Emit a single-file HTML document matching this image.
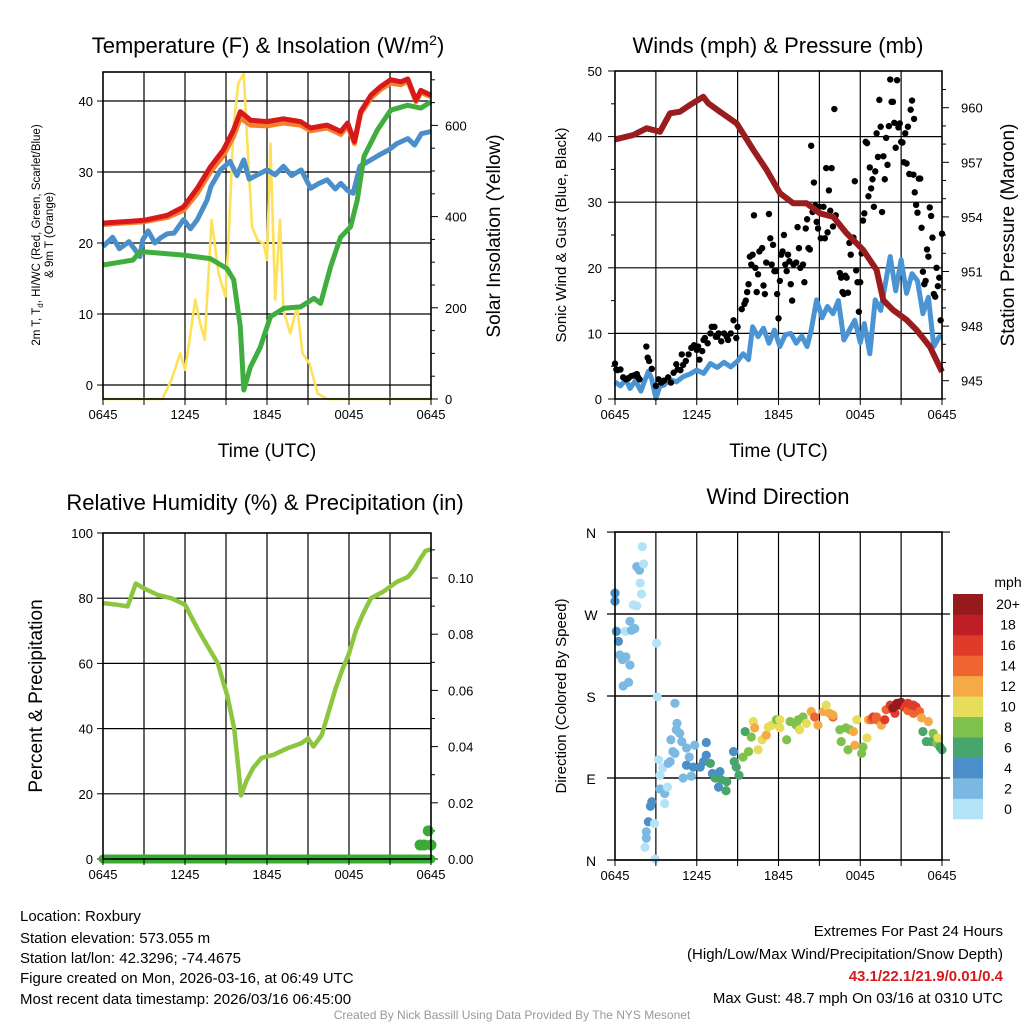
<!DOCTYPE html>
<html><head><meta charset="utf-8">
<style>
html,body{margin:0;padding:0;background:#fff;}
svg{display:block;font-family:"Liberation Sans",Arial,sans-serif;}
</style></head>
<body>
<svg id="fig" width="1024" height="1024" viewBox="0 0 1024 1024">
<rect x="0" y="0" width="1024" height="1024" fill="#fff"/>
<text x="268" y="53" font-size="22" text-anchor="middle">Temperature (F) &amp; Insolation (W/m<tspan dy="-8" font-size="14">2</tspan><tspan dy="8">)</tspan></text>
<text x="778" y="53" font-size="22" text-anchor="middle">Winds (mph) &amp; Pressure (mb)</text>
<text x="265" y="510" font-size="22" text-anchor="middle">Relative Humidity (%) &amp; Precipitation (in)</text>
<text x="778" y="504" font-size="22" text-anchor="middle">Wind Direction</text>
<g id="p1"></g>
<g id="p2"></g>
<g id="p3"></g>
<g id="p4"></g>
<g font-size="15">
<text x="20" y="921">Location: Roxbury</text>
<text x="20" y="943">Station elevation: 573.055 m</text>
<text x="20" y="963">Station lat/lon: 42.3296; -74.4675</text>
<text x="20" y="983">Figure created on Mon, 2026-03-16, at 06:49 UTC</text>
<text x="20" y="1004">Most recent data timestamp: 2026/03/16 06:45:00</text>
</g>
<g font-size="15" text-anchor="end">
<text x="1003" y="936">Extremes For Past 24 Hours</text>
<text x="1003" y="959">(High/Low/Max Wind/Precipitation/Snow Depth)</text>
<text x="1003" y="981" fill="#d7191c" font-weight="bold">43.1/22.1/21.9/0.01/0.4</text>
<text x="1003" y="1003">Max Gust: 48.7 mph On 03/16 at 0310 UTC</text>
</g>
<text x="512" y="1019" font-size="12" fill="#999" text-anchor="middle">Created By Nick Bassill Using Data Provided By The NYS Mesonet</text>
</svg>
<script>
// ---------- Panel 1 data ----------
const tempH = [0,3,4.7,5.9,6.9,7.85,8.8,9.55,10.05,10.8,12,13.2,14.45,15.2,16.4,17.4,17.9,18.4,18.85,19.6,20.3,21.05,21.8,22.3,22.9,23.25,24];
const tempRed = [22.8,23.2,23.9,25.1,27.7,30.7,33.1,35.9,38.5,37.3,37.1,37.5,37.1,36.2,36.6,35.7,36.9,34.3,38.5,40.8,42.0,43.0,42.7,43.1,40.1,41.5,40.8];
const tempOrange = [22.6,23.0,23.6,24.6,27.0,30.0,32.3,35.0,37.6,36.6,36.5,36.9,36.6,35.8,36.2,35.3,36.5,34.0,38.2,40.4,41.6,42.5,42.3,42.8,39.9,41.2,40.6];
const dewH = [0,2.2,2.7,5.9,7.85,9.07,9.56,10.05,10.3,10.78,11.5,12.25,13.23,14.45,15.43,15.92,16.65,17.38,18.12,18.6,19.1,20.07,21.05,22.27,23.25,24];
const dewPt = [16.9,17.6,18.8,18.3,17.8,16.4,14.8,8.2,-0.7,2.5,5.3,9.6,10.8,11.0,12.2,11.5,16.6,20.8,22.3,26.0,32.2,35.9,38.7,39.4,39.0,39.9];
const chillH = [0,0.7,1.2,1.9,2.6,2.7,2.9,3.3,3.8,4.2,4.7,5.2,5.9,6.4,6.9,7.6,7.9,8.6,9.3,9.8,10.3,10.7,11.5,12.0,12.6,13.2,13.8,14.5,15.2,15.8,16.4,17.0,17.4,17.9,18.3,18.8,19.6,20.3,20.9,21.5,22.3,22.8,23.3,24];
const windChill = [19.5,20.8,19.2,20.2,18.4,18.1,20.4,21.7,20.0,20.7,21.3,21.4,23.3,22.0,23.3,26.0,28.0,30.3,31.5,29.5,31.7,29.0,29.8,30.3,29.6,30.8,29.5,30.3,27.7,28.4,28.9,27.6,28.4,27.4,27.0,30.8,31.7,32.5,33.1,34.0,34.7,33.8,35.4,35.7];
const solarH = [0,4.4,4.4,5.0,5.65,6.0,6.4,6.75,7.1,7.45,7.95,8.45,8.95,9.2,9.55,9.9,10.3,10.5,10.9,11.3,11.75,12.0,12.25,12.6,12.95,13.2,13.7,14.2,14.6,15.1,15.7,16.4,24];
const solar = [0,0,4,41,100,64,144,218,167,130,393,276,225,356,597,692,714,597,378,349,341,305,560,218,393,195,144,203,100,78,12,0,0];
// ---------- Panel 2 data ----------
const presH = [0,1.34,2.32,3.3,4.04,4.77,5.5,6.48,6.85,7.7,8.93,10.15,11.13,12.11,13.08,14.06,15.04,16.02,17.0,18.22,19.2,19.69,20.42,21.4,22.13,23.11,24];
const pressure = [958.26,958.5,958.87,958.68,959.69,959.78,960.15,960.6,960.24,959.78,959.14,957.68,956.58,955.3,954.75,954.75,954.2,954.0,953.1,952.18,951.08,949.43,948.88,948.34,947.79,946.87,945.49];
const sonicH = [0,0.4,0.8,1.1,1.5,1.9,2.2,2.45,2.7,3.0,3.3,3.6,4.0,4.5,5.0,5.5,6.0,6.5,7.0,7.5,8.0,8.5,9.0,9.4,9.8,10.1,10.5,10.9,11.3,11.7,12.1,12.5,12.9,13.3,13.7,14.1,14.4,14.8,15.2,15.6,16.0,16.4,16.8,17.2,17.6,18.0,18.3,18.7,19.1,19.5,19.8,20.2,20.6,21.0,21.4,21.8,22.2,22.6,23.0,23.4,23.8,24];
const sonic = [2.6,2.0,3.0,1.6,2.8,1.2,2.9,4.2,3.0,0.1,2.0,2.1,3.0,2.6,3.4,3.8,4.4,3.9,5.4,4.8,5.6,4.9,5.8,6.9,6.0,11.0,9.5,10.8,8.5,10.5,8.0,9.8,10.0,8.5,9.6,8.0,10.5,15.1,12.4,14.1,13.0,15.0,9.0,10.5,12.0,8.6,11.5,6.9,15.1,13.5,17.1,21.7,16.5,21.2,16.1,19.1,18.0,13.0,15.5,8.0,9.5,9.5];
const gustH = [0,0.1,0.2,0.4,0.6,0.8,1.0,1.2,1.4,1.6,1.7,1.8,2.3,2.4,2.5,2.7,3.0,3.2,3.4,3.6,3.9,4.1,4.3,4.5,4.6,4.8,4.9,5.0,5.2,5.4,5.6,5.8,6.0,6.1,6.2,6.4,6.5,6.6,6.8,7.0,7.1,7.3,7.4,7.5,7.6,7.8,8.0,8.2,8.3,8.5,8.7,8.9,9.0,9.3,9.5,9.6,9.7,9.8,9.9,10.0,10.1,10.2,10.3,10.4,10.5,10.6,10.8,10.9,11.0,11.1,11.3,11.4,11.5,11.6,11.7,11.8,11.9,12.0,12.1,12.2,12.3,12.4,12.5,12.6,12.7,12.8,12.9,13.0,13.1,13.3,13.4,13.5,13.6,13.8,13.9,14.0,14.1,14.2,14.3,14.4,14.5,14.6,14.7,14.8,14.9,15.0,15.1,15.3,15.5,15.6,15.7,15.9,16.1,16.2,16.0,15.4,15.8,16.5,16.6,16.7,16.8,16.9,17.0,17.1,17.2,17.3,17.6,17.7,17.8,17.9,18.0,17.5,18.1,18.2,18.3,18.4,18.5,18.6,18.7,18.8,18.9,19.0,19.1,19.2,19.3,19.4,19.5,19.6,19.7,19.8,19.9,20.0,20.1,20.2,20.3,20.4,20.5,20.6,20.7,20.8,20.9,21.0,21.1,21.2,21.3,21.4,21.5,21.6,21.7,21.8,21.9,21.95,22.0,22.1,22.2,22.3,22.4,22.5,22.6,22.7,22.8,22.9,23.0,23.1,23.2,23.3,23.4,23.5,23.6,23.7,23.8,23.9,24.0];
const gust = [5.4,4.5,4.4,4.5,3.3,3.0,3.2,3.5,3.6,3.8,3.3,3.0,8.0,6.3,5.8,4.6,2.0,3.0,2.5,2.8,3.3,2.5,4.0,5.3,4.5,4.4,6.8,5.2,5.8,6.8,7.8,8.2,7.5,8.0,6.0,7.3,9.0,9.3,8.5,10.0,11.0,11.0,9.5,9.5,10.0,8.8,10.0,9.5,9.0,10.0,12.0,9.3,11.0,13.7,14.5,15.0,16.3,17.5,21.7,20.5,22.0,28.0,20.0,16.3,19.0,22.5,23.0,17.3,16.0,20.8,28.2,24.5,20.5,23.5,19.5,19.5,16.0,12.3,18.0,22.0,22.5,25.0,20.5,19.5,22.0,21.0,17.5,15.0,20.5,20.8,26.2,23.0,20.0,20.5,17.8,26.0,27.4,23.0,22.8,38.6,28.5,33.0,29.5,27.0,26.0,29.3,24.5,29.3,35.2,25.4,31.8,35.2,44.2,28.0,26.3,24.5,28.7,19.2,18.5,16.3,16.0,18.8,18.5,16.2,23.8,22.0,33.2,19.6,17.8,13.3,17.8,24.6,22.2,27.2,28.3,39.2,39.0,30.9,35.3,32.1,33.5,29.3,34.7,40.5,36.9,45.6,41.5,28.5,37.0,33.5,39.8,35.7,41.6,48.7,45.3,45.3,42.1,38.3,48.6,41.4,42.0,39.2,39.1,36.1,40.5,35.9,41.5,34.3,44.1,45.5,34.2,42.7,31.5,29.6,28.4,33.6,33.6,26.1,19.4,17.5,18.0,22.8,21.7,29.2,27.9,24.6,16.0,15.6,20.0,17.2,18.5,12.0,25.2,15.2,18.1];
// ---------- Panel 3 data ----------
const rhH = [0,1,1.8,2.4,3,4,5,6,6.5,7,7.7,8.4,9.1,9.6,9.9,10.1,10.5,11,11.6,12.5,13.5,14.5,15,15.4,16,16.5,17,17.5,18,18.5,19,19.6,20.5,21.5,22.3,22.8,23.2,23.6,24];
const rh = [78.5,78,77.5,84.5,83,81,80,78,74,70,65,60,50,40,28,19.5,24,28,31,32,34,35.5,37,34.5,38,45,52,58,63,70,75,80,82,85,86.5,89,92,94.5,95];
const precipH = [23.2,23.5,23.8,24];
const precip = [0.005,0.005,0.01,0.005];
// ---------- Panel 4 data ----------
const dirH = [0,0,0.1,0.25,0.35,0.55,0.8,1.1,0.6,1.0,0.75,1.2,1.45,1.1,1.35,1.6,1.6,1.8,1.85,1.95,2.0,2.1,3.05,3.1,3.2,3.5,3.3,3.3,3.65,3.85,3.65,2.7,2.6,2.45,2.3,2.3,2.2,2.9,2.95,4.4,4.55,4.5,4.75,4.1,4.9,5.25,4.25,4.4,4.05,3.9,5.0,5.6,5.85,5.45,5.25,5.75,6.25,6.5,6.7,6.7,7.0,7.15,7.35,7.6,7.7,7.8,8.2,8.15,8.7,8.75,8.9,9.1,9.4,9.55,9.8,10.0,10.15,10.25,10.5,10.8,11.1,11.25,11.5,11.85,12.1,12.6,12.85,13.3,13.45,13.55,13.8,14.05,14.4,14.65,14.9,15.3,15.5,15.75,16.0,16.5,16.6,16.95,17.1,17.25,17.5,17.6,17.75,18.1,18.2,18.5,18.6,18.8,18.95,19.2,19.45,19.55,19.8,19.9,20.2,20.4,20.55,20.8,21.0,21.25,21.5,21.75,21.9,22.1,22.35,22.5,23.0,22.6,22.85,23.2,23.35,23.6,23.7,23.85,24.0,20.4,20.7,21.5,21.9,19.2,16.0,12.1];
const dirDeg = [293,284,251,240,225,220,223,214,191,195,251,252,254,262,280,279,322,318,304,292,344,325,238,179,110,101,93,78,73,80,62,64,59,42,31,24,14,40,1,172,150,143,139,132,130,123,119,117,108,106,90,92,126,113,104,102,102,108,129,115,106,95,90,80,97,88,86,76,119,108,102,93,113,141,119,135,152,145,121,132,137,146,148,154,145,132,152,148,154,143,157,150,163,157,148,163,170,161,157,143,130,145,121,143,141,126,154,117,124,134,154,154,157,154,152,148,154,165,170,165,161,170,173,168,164,170,161,168,163,156,152,141,130,130,139,128,134,124,121,167,172,172,170,157,159,154];
const dirSpd = [5,5,5,5,3,3,3,3,3,3,1,3,3,3,1,1,3,3,1,1,1,1,1,1,1,1,1,3,3,1,1,5,5,5,3,3,1,1,0.5,3,3,3,3,3,3,3,3,3,3,3,3,3,3,3,5,5,5,5,5,5,7,5,7,5,5,7,7,7,5,7,7,7,9,7,9,9,11,13,11,11,13,11,11,9,11,9,9,9,9,11,9,11,13,15,13,13,11,13,15,9,9,9,9,9,13,13,11,9,9,11,13,15,17,15,15,13,17,15,17,17,17,21,21,17,15,17,15,17,15,13,13,7,7,7,9,9,11,7,7,21,21,17,17,15,13,11];
const cbarLabels = ["0","2","4","6","8","10","12","14","16","18","20+"];
const cbarColors = ["#b3e3f7","#7bb9e3","#4a8fc7","#48a56b","#7ec24b","#e6de5a","#f6aa47","#ef6531","#e03a2a","#bf1e26","#951a1d"];
const xTickLabels = ["0645","1245","1845","0045","0645"];

const NS = "http://www.w3.org/2000/svg";
function mk(parent, tag, attrs, text){
  const e = document.createElementNS(NS, tag);
  for (const k in attrs) e.setAttribute(k, attrs[k]);
  if (text !== undefined) e.textContent = text;
  parent.appendChild(e);
  return e;
}
function linPath(xs, ys, fx, fy){
  return xs.map((v,i)=>(i?"L":"M")+fx(v).toFixed(1)+","+fy(ys[i]).toFixed(1)).join("");
}
function frameAndGrid(g, x0, x1, y0, y1, hVals, fy){
  for (let k=1;k<8;k++){
    const x = x0 + k*(x1-x0)/8;
    const l = mk(g,"line",{x1:x,x2:x,y1:y0,y2:y1,stroke:"#000","stroke-width":1.2});
    
    
  }
  hVals.forEach(v=>{
    const y = fy(v);
    const l = mk(g,"line",{x1:x0,x2:x1,y1:y,y2:y,stroke:"#000","stroke-width":1.2});
    
    
  });
}
function xAxis(g, x0, x1, yb, title){
  xTickLabels.forEach((t,i)=>{
    const x = x0 + i*(x1-x0)/4;
    const tx = mk(g,"text",{x:x,y:yb+20,"font-size":13,"text-anchor":"middle"},t);
    
    
  });
  for (let k=0;k<=8;k++){
    const x = x0 + k*(x1-x0)/8;
    mk(g,"line",{x1:x,x2:x,y1:yb,y2:yb+6,stroke:"#000","stroke-width":1});
  }
  if (title){
    const tt = mk(g,"text",{x:(x0+x1)/2,y:yb+58,"font-size":19,"text-anchor":"middle"},title);
    
    
  }
}
function frame(g,x0,x1,y0,y1){
  const r = mk(g,"rect",{x:x0,y:y0,width:x1-x0,height:y1-y0,fill:"none",stroke:"#000","stroke-width":1.6});
  
  
}

// ================= Panel 1 =================
(function(){
  const g = document.getElementById("p1");
  const X0=103,X1=431,Y0=72,Y1=399;
  const sx = h=>X0+h*(X1-X0)/24;
  const syL = v=>385-7.1*v;
  const syR = v=>399-0.456*v;
  frameAndGrid(g,X0,X1,Y0,Y1,[0,10,20,30,40],syL);
  [0,10,20,30,40].forEach(v=>{
    mk(g,"line",{x1:X0-6,x2:X0,y1:syL(v),y2:syL(v),stroke:"#000"});
    const t = mk(g,"text",{x:X0-10,y:syL(v)+5,"font-size":13,"text-anchor":"end"},String(v));
    
    
  });
  for (let v=0; v<=700; v+=50){
    const major = v%200===0;
    mk(g,"line",{x1:X1,x2:X1+(major?7:4),y1:syR(v),y2:syR(v),stroke:"#000"});
    if (major){
      const t = mk(g,"text",{x:X1+14,y:syR(v)+5,"font-size":13},String(v));
      
      
    }
  }
  const sol = mk(g,"path",{d:linPath(solarH,solar,sx,syR),fill:"none",stroke:"#fde158","stroke-width":2.6,"stroke-linejoin":"round"});
  
  
  const wc = mk(g,"path",{d:linPath(chillH,windChill,sx,syL),fill:"none",stroke:"#4a8fc9","stroke-width":5,"stroke-linejoin":"round"});
  
  
  const dp = mk(g,"path",{d:linPath(dewH,dewPt,sx,syL),fill:"none",stroke:"#3fae3e","stroke-width":5,"stroke-linejoin":"round"});
  
  
  const ot = mk(g,"path",{d:linPath(tempH,tempOrange,sx,syL),fill:"none",stroke:"#f57f2a","stroke-width":5,"stroke-linejoin":"round"});
  
  
  const rt = mk(g,"path",{d:linPath(tempH,tempRed,sx,syL),fill:"none",stroke:"#d7191c","stroke-width":5,"stroke-linejoin":"round"});
  
  
  frame(g,X0,X1,Y0,Y1);
  xAxis(g,X0,X1,Y1,"Time (UTC)");
  const yl = mk(g,"text",{transform:"translate(40,235) rotate(-90)","font-size":11.5,"text-anchor":"middle"});
  
  
  yl.innerHTML = '2m T, T<tspan font-size="8" dy="3">d</tspan><tspan dy="-3">, HI/WC (Red, Green, Scarlet/Blue)</tspan>';
  const yl2 = mk(g,"text",{transform:"translate(53,235) rotate(-90)","font-size":11.5,"text-anchor":"middle"},"& 9m T (Orange)");
  
  
  const yr = mk(g,"text",{transform:"translate(500,236) rotate(-90)","font-size":19,"text-anchor":"middle"},"Solar Insolation (Yellow)");
  
  
})();

// ================= Panel 2 =================
(function(){
  const g = document.getElementById("p2");
  const X0=615,X1=942,Y0=71,Y1=399;
  const sx = h=>X0+h*(X1-X0)/24;
  const syL = v=>399-6.56*v;
  const syR = p=>380.7-18.2*(p-945);
  frameAndGrid(g,X0,X1,Y0,Y1,[10,20,30,40],syL);
  for (let v=0; v<=50; v+=5){
    const major = v%10===0;
    mk(g,"line",{x1:X0-(major?7:4),x2:X0,y1:syL(v),y2:syL(v),stroke:"#000"});
    if (major){
      const t = mk(g,"text",{x:X0-13,y:syL(v)+5,"font-size":13,"text-anchor":"end"},String(v));
      
      
    }
  }
  for (let p=944; p<=961; p++){
    const major = p%3===0;
    mk(g,"line",{x1:X1,x2:X1+(major?7:4),y1:syR(p),y2:syR(p),stroke:"#000"});
    if (major){
      const t = mk(g,"text",{x:X1+19,y:syR(p)+5,"font-size":13},String(p));
      
      
    }
  }
  const sn = mk(g,"path",{d:linPath(sonicH,sonic,sx,syL),fill:"none",stroke:"#4a94d4","stroke-width":5,"stroke-linejoin":"round"});
  
  
  gustH.forEach((h,i)=>{
    const c = mk(g,"circle",{cx:sx(h),cy:syL(gust[i]),r:3.2,fill:"#000"});
    
    
  });
  const pr = mk(g,"path",{d:linPath(presH,pressure,sx,syR),fill:"none",stroke:"#9a1c1f","stroke-width":6,"stroke-linejoin":"round"});
  
  
  frame(g,X0,X1,Y0,Y1);
  xAxis(g,X0,X1,Y1,"Time (UTC)");
  const yl = mk(g,"text",{transform:"translate(566,235) rotate(-90)","font-size":15,"text-anchor":"middle"},"Sonic Wind & Gust (Blue, Black)");
  
  
  const yr = mk(g,"text",{transform:"translate(1014,235) rotate(-90)","font-size":19,"text-anchor":"middle"},"Station Pressure (Maroon)");
  
  
})();

// ================= Panel 3 =================
(function(){
  const g = document.getElementById("p3");
  const X0=103,X1=431,Y0=533,Y1=859;
  const sx = h=>X0+h*(X1-X0)/24;
  const syL = v=>859-3.26*v;
  const syR = v=>859-2810*v;
  frameAndGrid(g,X0,X1,Y0,Y1,[20,40,60,80],syL);
  [0,20,40,60,80,100].forEach(v=>{
    mk(g,"line",{x1:X0-6,x2:X0,y1:syL(v),y2:syL(v),stroke:"#000"});
    const t = mk(g,"text",{x:X0-10,y:syL(v)+5,"font-size":13,"text-anchor":"end"},String(v));
    
    
  });
  for (let k=0; k<=11; k++){
    const v = k*0.01;
    const major = k%2===0;
    mk(g,"line",{x1:X1,x2:X1+(major?7:4),y1:syR(v),y2:syR(v),stroke:"#000"});
    if (major){
      const t = mk(g,"text",{x:X1+17,y:syR(v)+5,"font-size":13},v.toFixed(2));
      
      
    }
  }
  const base = mk(g,"line",{x1:sx(0),x2:sx(24),y1:syR(0),y2:syR(0),stroke:"#3aaa35","stroke-width":9,"stroke-linecap":"round"});
  
  
  precipH.forEach((h,i)=>{
    const c = mk(g,"circle",{cx:sx(h),cy:syR(precip[i]),r:5.5,fill:"#3aaa35"});
    
    
  });
  const rl = mk(g,"path",{d:linPath(rhH,rh,sx,syL),fill:"none",stroke:"#8cc63f","stroke-width":4.5,"stroke-linejoin":"round"});
  
  
  frame(g,X0,X1,Y0,Y1);
  xAxis(g,X0,X1,Y1,null);
  const yl = mk(g,"text",{transform:"translate(42,696) rotate(-90)","font-size":19,"text-anchor":"middle"},"Percent & Precipitation");
  
  
})();

// ================= Panel 4 =================
(function(){
  const g = document.getElementById("p4");
  const X0=615,X1=942,Y0=532,Y1=860;
  const sx = h=>X0+h*(X1-X0)/24;
  const sy = d=>860-0.911*d;
  frameAndGrid(g,X0,X1,Y0,Y1,[90,180,270],sy);
  const dirLabels = ["N","E","S","W","N"];
  dirLabels.forEach((t,i)=>{
    const y = sy(i*90);
    mk(g,"line",{x1:X0-8,x2:X1+8,y1:y,y2:y,stroke:"#000","stroke-width":1.2});
    const tx = mk(g,"text",{x:591,y:y+6,"font-size":14,"text-anchor":"middle"},t);
    
    
  });
  function colorFor(s){ return cbarColors[Math.min(10, Math.floor(s/2))]; }
  dirH.forEach((h,i)=>{
    const c = mk(g,"circle",{cx:sx(h),cy:sy(dirDeg[i]),r:4.6,fill:colorFor(dirSpd[i])});
    
    
  });
  frame(g,X0,X1,Y0,Y1);
  xAxis(g,X0,X1,Y1,null);
  const yl = mk(g,"text",{transform:"translate(566,696) rotate(-90)","font-size":15,"text-anchor":"middle"},"Direction (Colored By Speed)");
  
  
  const cb = mk(g,"g",{});
  
  
  const bh = (819-594)/11;
  cbarColors.forEach((col,i)=>{
    const y = 819-(i+1)*bh;
    const r = mk(cb,"rect",{x:953,y:y,width:30,height:bh+0.3,fill:col});
    
    
    const t = mk(cb,"text",{x:1008,y:y+bh/2+5,"font-size":14,"text-anchor":"middle"},cbarLabels[i]);
    
    
  });
  const u = mk(cb,"text",{x:1008,y:587,"font-size":14,"text-anchor":"middle"},"mph");
  
  
})();
</script>
</body></html>
